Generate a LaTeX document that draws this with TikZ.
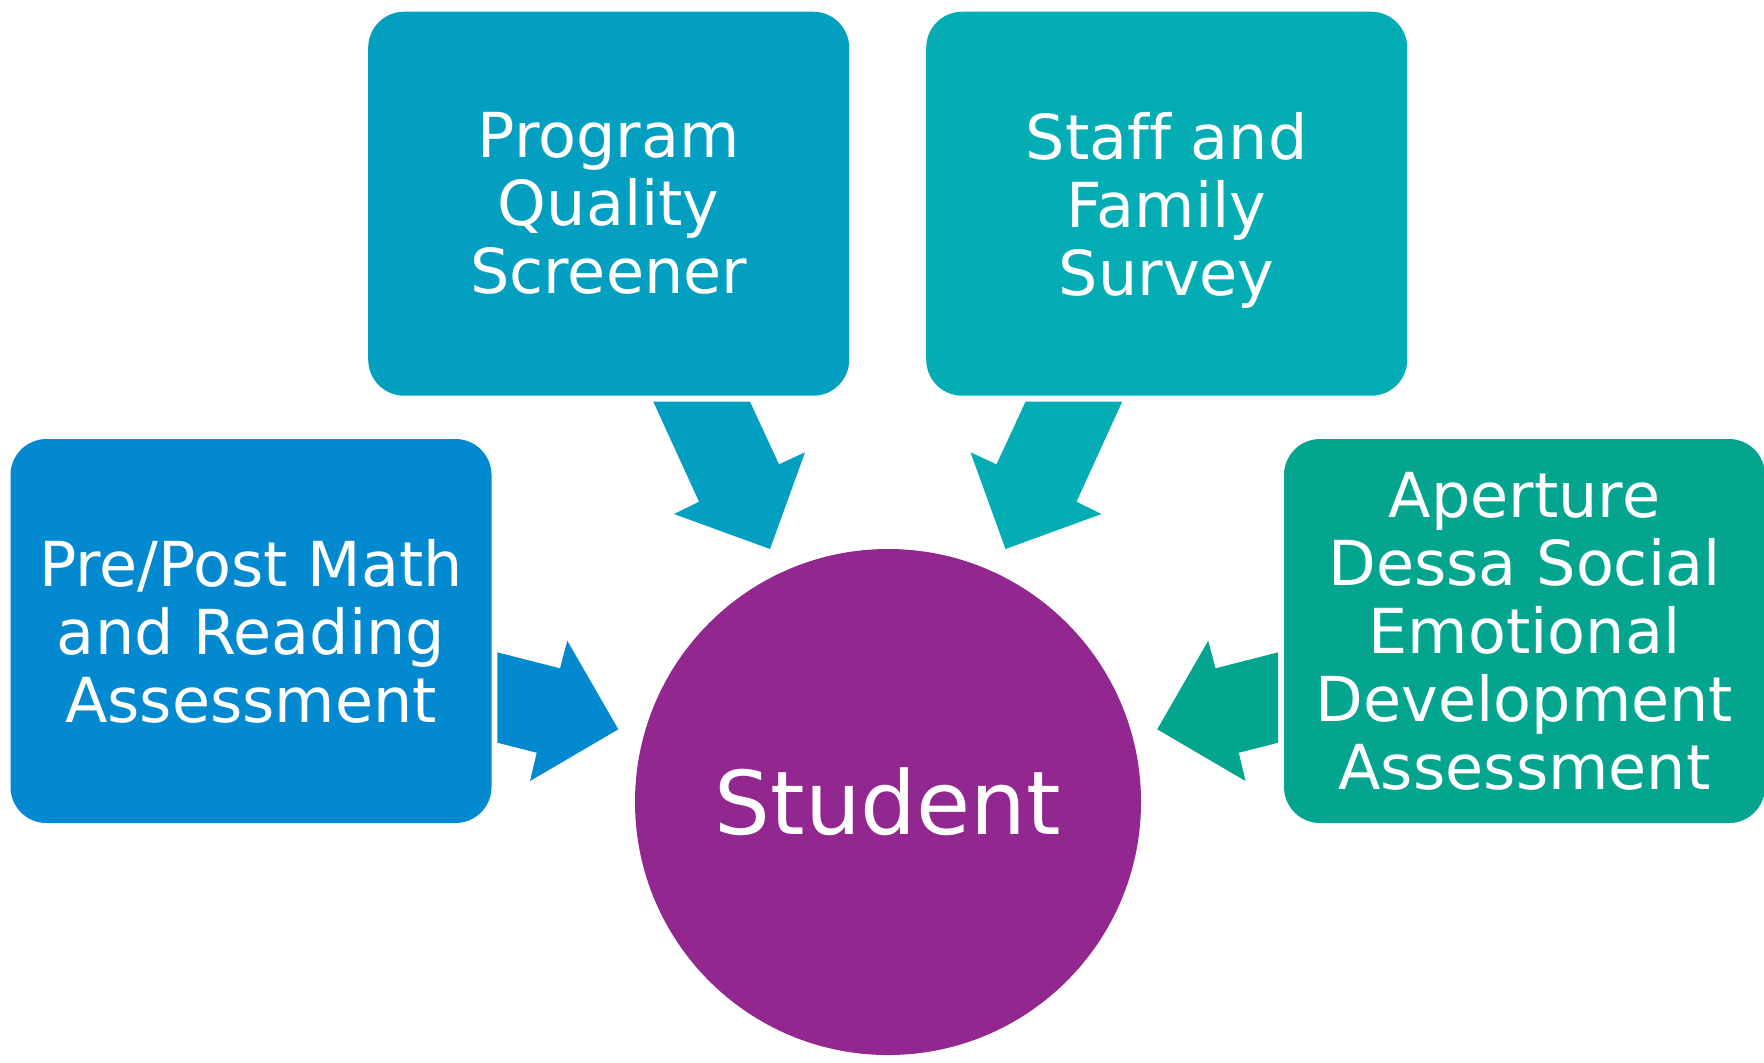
\documentclass[tikz,border=0pt]{standalone}
\usepackage{fontspec}
\setmainfont{DejaVu Sans}[Ligatures=NoCommon]
\usepackage{tikz}
\usetikzlibrary{positioning}

\definecolor{preblue}{RGB}{3,137,208}
\definecolor{pqsblue}{RGB}{3,159,192}
\definecolor{sfsteal}{RGB}{4,173,180}
\definecolor{adesgreen}{RGB}{3,165,143}
\definecolor{studpurple}{RGB}{146,39,143}

\begin{document}
\begin{tikzpicture}[x=0.5pt,y=-0.5pt,
   box/.style={rectangle,rounded corners=18pt,inner sep=0pt,minimum width=240.5pt,
      minimum height=192pt,text=white,align=center,font=\fontsize{31}{34}\selectfont},
   blockarrow/.style={draw=none}]
   \useasboundingbox (0,0) rectangle (1764,1062);

   \node[circle,fill=studpurple,minimum size=253pt,inner sep=0pt,text=white,
      font=\fontsize{44}{48}\selectfont] (student) at (888,802) {Student};
   \node[box,fill=preblue]   (pre)  at (251,631)    {Pre/Post Math\\and Reading\\Assessment};
   \node[box,fill=pqsblue]   (pqs)  at (608.7,203.7) {Program\\Quality\\Screener};
   \node[box,fill=sfsteal]   (sfs)  at (1166.7,203.7) {Staff and\\Family\\\raisebox{0pt}[\height][0pt]{Survey}};
   \node[box,fill=adesgreen] (ades) at (1524.5,631) {Aperture\\Dessa Social\\Emotional\\Development\\Assessment};

   % block arrows into the student
   \fill[blockarrow,pqsblue] (653.3,401.7) -- (750,401.7) -- (779,464.3) -- (805,452.3)
      -- (770,549) -- (674,514) -- (699,501.7) -- cycle;
   \fill[blockarrow,sfsteal] (1122.2,401.7) -- (1025.5,401.7) -- (996.5,464.3) -- (970.5,452.3)
      -- (1005.5,549) -- (1101.5,514) -- (1076.5,501.7) -- cycle;
   \fill[blockarrow,preblue] (497.3,652.3) -- (560,668.3) -- (567.3,640.7) -- (618.3,729.3)
      -- (530,781) -- (536.7,752.7) -- (497.3,742.7) -- cycle;
   \fill[blockarrow,adesgreen] (1278.2,652.3) -- (1215.5,668.3) -- (1208.2,640.7) -- (1157.2,729.3)
      -- (1245.5,781) -- (1238.8,752.7) -- (1278.2,742.7) -- cycle;
\end{tikzpicture}
\end{document}
